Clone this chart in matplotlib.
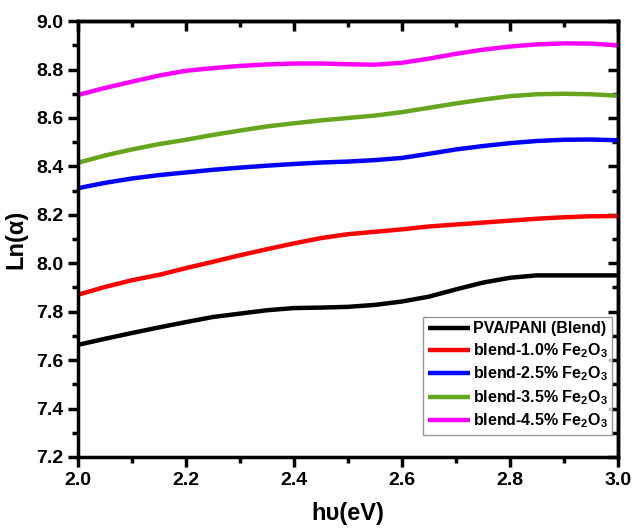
import numpy as np
import matplotlib.pyplot as plt
from matplotlib.ticker import MultipleLocator

plt.rcParams['font.family'] = ['Liberation Sans', 'DejaVu Sans']
plt.rcParams['font.weight'] = 'bold'
plt.rcParams['mathtext.fontset'] = 'custom'
plt.rcParams['mathtext.rm'] = 'Liberation Sans:bold'
plt.rcParams['mathtext.bf'] = 'Liberation Sans:bold'
plt.rcParams['mathtext.default'] = 'bf'

# photon energy (eV)
energy = [2.0, 2.05, 2.1, 2.15, 2.2, 2.25, 2.3, 2.35, 2.4, 2.45, 2.5,
          2.55, 2.6, 2.65, 2.7, 2.75, 2.8, 2.85, 2.9, 2.95, 3.0]

# Ln(alpha) for each sample
blend = [7.663, 7.688, 7.712, 7.735, 7.757, 7.778, 7.792, 7.806, 7.815, 7.817, 7.820,
         7.828, 7.842, 7.862, 7.892, 7.920, 7.940, 7.950, 7.950, 7.950, 7.950]
fe10 = [7.870, 7.902, 7.930, 7.952, 7.980, 8.006, 8.033, 8.058, 8.082, 8.104, 8.120,
        8.130, 8.140, 8.152, 8.160, 8.168, 8.176, 8.184, 8.190, 8.194, 8.195]
fe25 = [8.310, 8.332, 8.350, 8.364, 8.375, 8.386, 8.395, 8.403, 8.410, 8.416, 8.420,
        8.426, 8.435, 8.452, 8.470, 8.484, 8.496, 8.505, 8.510, 8.511, 8.508]
fe35 = [8.415, 8.445, 8.470, 8.492, 8.510, 8.530, 8.548, 8.565, 8.578, 8.590, 8.600,
        8.610, 8.624, 8.642, 8.660, 8.676, 8.690, 8.698, 8.700, 8.698, 8.692]
fe45 = [8.695, 8.724, 8.750, 8.775, 8.795, 8.806, 8.815, 8.821, 8.825, 8.825, 8.822,
        8.820, 8.828, 8.845, 8.865, 8.882, 8.895, 8.904, 8.908, 8.907, 8.900]

series = [blend, fe10, fe25, fe35, fe45]
labels = ['PVA/PANI (Blend)',
          'blend-1.0% Fe$_2$O$_3$',
          'blend-2.5% Fe$_2$O$_3$',
          'blend-3.5% Fe$_2$O$_3$',
          'blend-4.5% Fe$_2$O$_3$']
colors = ['#000000', '#ff0000', '#0000ff', '#66a51e', '#ff00ff']

fig = plt.figure(figsize=(6.33, 5.28), dpi=100)
ax = fig.add_axes([0.123, 0.1345, 0.853, 0.8255])

for y, lab, c in zip(series, labels, colors):
    ax.plot(energy, y, color=c, lw=3.2, label=lab, solid_capstyle='butt')

ax.set_xlim(2.0, 3.0)
ax.set_ylim(7.2, 9.0)
ax.xaxis.set_major_locator(MultipleLocator(0.2))
ax.xaxis.set_minor_locator(MultipleLocator(0.1))
ax.yaxis.set_major_locator(MultipleLocator(0.2))
ax.yaxis.set_minor_locator(MultipleLocator(0.1))
ax.xaxis.set_major_formatter(lambda v, p: f'{v:.1f}')
ax.yaxis.set_major_formatter(lambda v, p: f'{v:.1f}')

for s in ax.spines.values():
    s.set_linewidth(2.5)

ax.tick_params(which='both', direction='out', width=2.5, labelsize=14)
ax.tick_params(which='major', length=7)
ax.tick_params(which='minor', length=4)
for lab in ax.get_xticklabels() + ax.get_yticklabels():
    lab.set_fontweight('bold')

# inward ticks on the top and right edges
top = ax.secondary_xaxis('top')
top.xaxis.set_major_locator(MultipleLocator(0.2))
top.xaxis.set_minor_locator(MultipleLocator(0.1))
top.tick_params(which='both', direction='in', width=2.5, labeltop=False)
top.tick_params(which='major', length=7)
top.tick_params(which='minor', length=4)
top.spines['top'].set_linewidth(2.5)
right = ax.secondary_yaxis('right')
right.yaxis.set_major_locator(MultipleLocator(0.2))
right.yaxis.set_minor_locator(MultipleLocator(0.1))
right.tick_params(which='both', direction='in', width=2.5, labelright=False)
right.tick_params(which='major', length=7)
right.tick_params(which='minor', length=4)
right.spines['right'].set_linewidth(2.5)

ax.set_xlabel('h\u03c5(eV)', fontsize=17, fontweight='bold', labelpad=10)
ax.set_ylabel('Ln(\u03b1)', fontsize=17, fontweight='bold', labelpad=6)

leg = ax.legend(loc='lower right', bbox_to_anchor=(0.99, 0.05), fontsize=11.5,
                frameon=True, fancybox=False, edgecolor='#808080',
                handlelength=2.6, handletextpad=0.2, labelspacing=0.3,
                borderpad=0.3, borderaxespad=0)
leg.get_frame().set_linewidth(1.0)
for t in leg.get_texts():
    t.set_fontweight('bold')

fig.savefig('out.png', dpi=100)
